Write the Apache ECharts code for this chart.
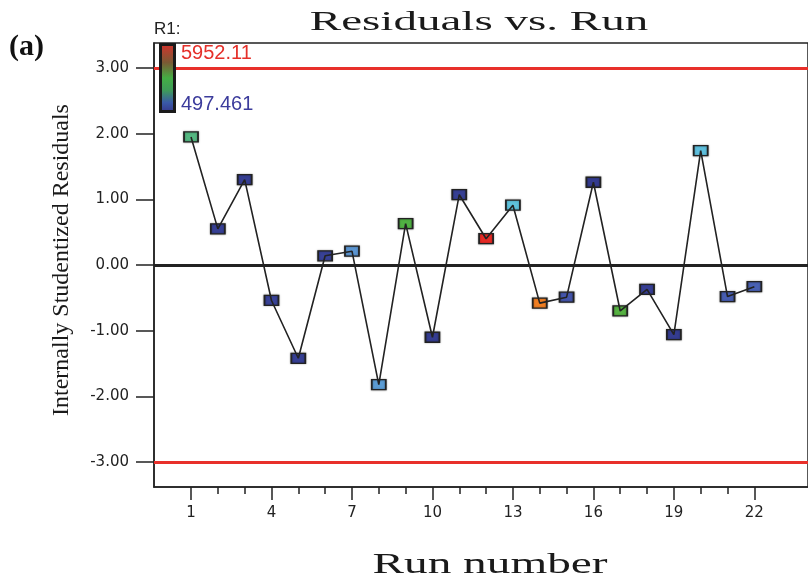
<!DOCTYPE html>
<html>
<head>
<meta charset="utf-8">
<script src="https://cdn.jsdelivr.net/npm/echarts@6/dist/echarts.min.js"></script>
<style>html,body{margin:0;padding:0;background:#fff;}#c{width:808px;height:581px;}</style>
</head>
<body>
<div id="c"></div>
<script>
// ---- data ----
const runs = [1,2,3,4,5,6,7,8,9,10,11,12,13,14,15,16,17,18,19,20,21,22];
const residuals = [1.95,0.55,1.30,-0.54,-1.42,0.14,0.21,-1.82,0.63,-1.10,1.07,0.40,0.91,-0.58,-0.49,1.26,-0.70,-0.37,-1.06,1.74,-0.48,-0.33];
// R1 response (colour-coded)
const r1 = [2950,650,600,700,620,680,1850,1950,3250,560,640,5952.11,2550,5150,1150,497.461,3300,600,540,2500,1250,1300];
const r1Min = 497.461, r1Max = 5952.11;
const xTickLabels = [1,4,7,10,13,16,19,22];
const xMinorTicks = [2,3,5,6,8,9,11,12,14,15,17,18,20,21];
const yTickLabels = [-3,-2,-1,0,1,2,3];
const limits = [3,-3];

const chart = echarts.init(document.getElementById('c'), null, {renderer:'canvas'});
const serif = '"Liberation Serif", "Times New Roman", serif';
const sans = '"Liberation Sans", Arial, sans-serif';
const tickFont = '"DejaVu Sans", sans-serif';

const option = {
  backgroundColor: '#ffffff',
  animation: false,
  grid: {left: 154, right: -21, top: 43, bottom: 94, show: true, borderColor: '#222', borderWidth: 1.5, backgroundColor: '#fff'},
  xAxis: [{
    type: 'value', min: -0.38, max: 24, position: 'bottom',
    axisLine: {show: true, onZero: false, lineStyle: {color: '#222', width: 1.5}},
    axisTick: {show: true, customValues: xTickLabels, length: 13, lineStyle: {color: '#222', width: 1.5}},
    axisLabel: {show: true, customValues: xTickLabels, margin: 19, color: '#222', fontFamily: tickFont, fontSize: 15},
    splitLine: {show: false}
  },{
    type: 'value', min: -0.38, max: 24, position: 'bottom',
    axisLine: {show: false, onZero: false},
    axisTick: {show: true, customValues: xMinorTicks, length: 7, lineStyle: {color: '#222', width: 1.5}},
    axisLabel: {show: false},
    splitLine: {show: false}
  }],
  yAxis: {
    type: 'value', min: -3.38, max: 3.38,
    axisLine: {show: true, onZero: false, lineStyle: {color: '#222', width: 1.5}},
    axisTick: {show: true, customValues: yTickLabels, length: 18, lineStyle: {color: '#222', width: 1.5}},
    axisLabel: {show: true, customValues: yTickLabels, margin: 25, color: '#222', fontFamily: tickFont, fontSize: 15,
      formatter: v => v.toFixed(2)},
    splitLine: {show: false}
  },
  visualMap: {
    show: false, type: 'continuous', min: r1Min, max: r1Max, dimension: 2, seriesIndex: 1,
    inRange: {color: ['#333a8e','#4556ad','#5b96d2','#5ec2de','#4db043','#9cc23a','#f0b020','#f07322','#e52a25']}
  },
  series: [{
    type: 'line', z: 4,
    data: runs.map((r,i) => [r, residuals[i]]),
    symbol: 'none', lineStyle: {color: '#222', width: 1.6},
    markLine: {
      silent: true, symbol: 'none', label: {show: false},
      data: [
        {yAxis: limits[0], lineStyle: {color: '#e8302a', width: 3, type: 'solid'}},
        {yAxis: limits[1], lineStyle: {color: '#e8302a', width: 3, type: 'solid'}},
        {yAxis: 0, lineStyle: {color: '#222', width: 3, type: 'solid'}}
      ]
    }
  },{
    type: 'scatter', z: 3,
    data: runs.map((r,i) => [r, residuals[i], r1[i]]),
    symbol: 'rect', symbolSize: [14, 10],
    itemStyle: {borderColor: '#222', borderWidth: 1.5, shadowBlur: 2, shadowColor: 'rgba(0,0,0,0.35)', opacity: 1}
  }],
  graphic: [
    {type: 'text', x: 479, y: 23, scaleX: 1.68, z: 10,
      style: {text: 'Residuals vs. Run', font: '28px ' + serif, fill: '#1a1a1a', textAlign: 'center', textVerticalAlign: 'middle'}},
    {type: 'text', x: 490, y: 565, scaleX: 1.63, z: 10,
      style: {text: 'Run number', font: '29px ' + serif, fill: '#1a1a1a', textAlign: 'center', textVerticalAlign: 'middle'}},
    {type: 'text', x: 62, y: 260, rotation: Math.PI/2, z: 10,
      style: {text: 'Internally Studentized Residuals', font: '24px ' + serif, fill: '#1a1a1a', textAlign: 'center', textVerticalAlign: 'middle'}},
    {type: 'text', x: 9, y: 47, z: 10,
      style: {text: '(a)', font: 'bold 30px ' + serif, fill: '#111', textAlign: 'left', textVerticalAlign: 'middle'}},
    {type: 'text', x: 154, y: 29, z: 10,
      style: {text: 'R1:', font: '17px ' + sans, fill: '#222', textAlign: 'left', textVerticalAlign: 'middle'}},
    {type: 'rect', z: 10, shape: {x: 160.5, y: 44.5, width: 14, height: 67},
      style: {stroke: '#1a1a1a', lineWidth: 3,
        fill: new echarts.graphic.LinearGradient(0, 0, 0, 1, [
          {offset: 0, color: '#d8302c'},
          {offset: 0.28, color: '#7a5a34'},
          {offset: 0.5, color: '#44ad44'},
          {offset: 0.68, color: '#3e9a5a'},
          {offset: 0.85, color: '#3a5aa8'},
          {offset: 1, color: '#35358a'}
        ])}},
    {type: 'text', x: 181, y: 53, z: 10,
      style: {text: String(r1Max), font: '20px ' + sans, fill: '#e5302a', textAlign: 'left', textVerticalAlign: 'middle'}},
    {type: 'text', x: 181, y: 104, z: 10,
      style: {text: String(r1Min), font: '20px ' + sans, fill: '#3c3c9c', textAlign: 'left', textVerticalAlign: 'middle'}}
  ]
};
chart.setOption(option);
</script>
</body>
</html>
